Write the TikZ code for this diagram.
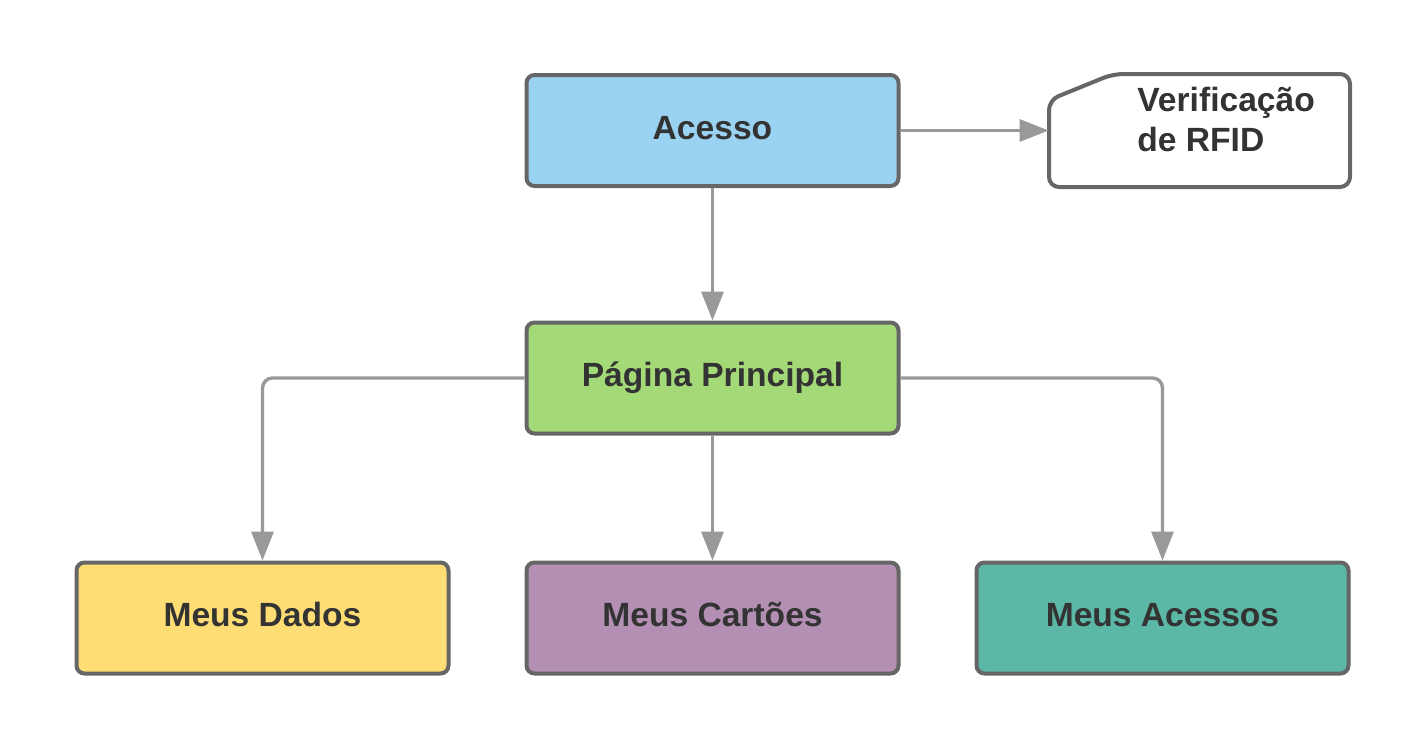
\documentclass[tikz,border=0pt]{standalone}
\usepackage{fontspec}
\setmainfont{Liberation Sans}
\usetikzlibrary{arrows.meta,calc}
\definecolor{bordc}{HTML}{666666}
\definecolor{arrc}{HTML}{999999}
\definecolor{txtc}{HTML}{333333}
\definecolor{cblue}{HTML}{9AD2F2}
\definecolor{cgreen}{HTML}{A3D977}
\definecolor{cyellow}{HTML}{FFDD75}
\definecolor{cpurple}{HTML}{B38FB3}
\definecolor{cteal}{HTML}{5BB8A6}
\tikzset{
  box/.style={draw=bordc, line width=2pt, rounded corners=4pt, minimum width=186pt, minimum height=55.5pt, inner sep=0pt, text height=12.5pt, text depth=4pt, font=\fontsize{16.8}{19}\selectfont\bfseries, text=txtc},
  conn/.style={draw=arrc, line width=1.7pt, rounded corners=5pt, -{Triangle[length=14.5pt,width=11pt]}}
}
\begin{document}
\begin{tikzpicture}[x=0.5pt,y=-0.5pt]
\useasboundingbox (0,0) rectangle (1425,750);
\node[box, fill=cblue] (acesso) at (712.5,130.5) {Acesso};
\node[box, fill=cgreen] (pagina) at (712.5,378) {Página Principal};
\node[box, fill=cyellow] (dados) at (262.5,618) {Meus Dados};
\node[box, fill=cpurple] (cartoes) at (712.5,618) {Meus Cartões};
\node[box, fill=cteal] (acessos) at (1162.5,618) {Meus Acessos};
\node[minimum width=150.5pt, minimum height=56.5pt, inner sep=0pt] (rfid) at (1199.5,130.5) {};
\draw[draw=bordc, line width=2pt, fill=white, rounded corners=5pt]
  (1049,100) -- (1049,187) -- (1350,187) -- (1350,74) -- (1113,74) -- cycle;
\node[anchor=west, align=left, inner sep=0pt, font=\fontsize{16.8}{20}\selectfont\bfseries, text=txtc] (rfidtxt) at (1137,119) {Verificação\\de RFID};
\draw[conn] (acesso.east) -- (rfid.west);
\draw[conn] (acesso.south) -- (pagina.north);
\draw[conn] (pagina.west) -| (dados.north);
\draw[conn] (pagina.east) -| (acessos.north);
\draw[conn] (pagina.south) -- (cartoes.north);
\end{tikzpicture}
\end{document}
